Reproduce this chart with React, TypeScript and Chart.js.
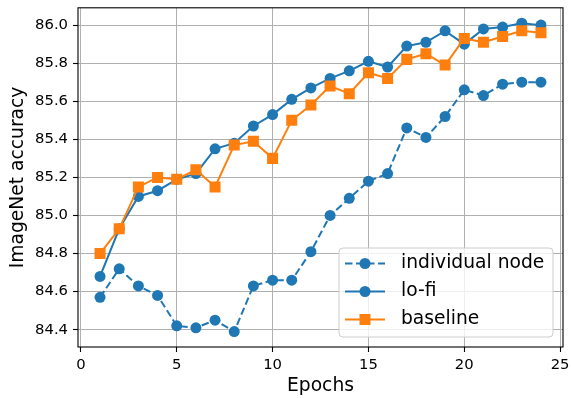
import React, { useEffect, useRef } from "react";
import { Chart, registerables } from "chart.js";
Chart.register(...registerables);

const epochs = [1, 2, 3, 4, 5, 6, 7, 8, 9, 10, 11, 12, 13, 14, 15, 16, 17, 18, 19, 20, 21, 22, 23, 24];
const individualNode = [84.57, 84.72, 84.63, 84.58, 84.42, 84.41, 84.45, 84.39, 84.63, 84.66, 84.66, 84.81, 85.0, 85.09, 85.18, 85.22, 85.46, 85.41, 85.52, 85.66, 85.63, 85.69, 85.7, 85.7];
const loFi = [84.68, 84.93, 85.1, 85.13, 85.19, 85.22, 85.35, 85.38, 85.47, 85.53, 85.61, 85.67, 85.72, 85.76, 85.81, 85.78, 85.89, 85.91, 85.97, 85.9, 85.98, 85.99, 86.01, 86.0];
const baseline = [84.8, 84.93, 85.15, 85.2, 85.19, 85.24, 85.15, 85.37, 85.39, 85.3, 85.5, 85.58, 85.68, 85.64, 85.75, 85.72, 85.82, 85.85, 85.79, 85.93, 85.91, 85.94, 85.97, 85.96];
const xTicks = [0, 5, 10, 15, 20, 25];
const yTicks = [84.4, 84.6, 84.8, 85.0, 85.2, 85.4, 85.6, 85.8, 86.0];
const seriesNames = ["individual node", "lo-fi", "baseline"];
const xTitle = "Epochs";
const yTitle = "ImageNet accuracy";

const BLUE = "#1f77b4";
const ORANGE = "#ff7f0e";
const FONT = "'DejaVu Sans', sans-serif";
const DASH = [7.5, 3.5];

export default function App() {
  const ref = useRef<HTMLCanvasElement>(null);
  useEffect(() => {
    document.body.style.margin = "0";
    const toXY = (ys: number[]) => epochs.map((x, i) => ({ x, y: ys[i] }));

    const framePlugin = {
      id: "frame",
      afterDatasetsDraw(chart: any) {
        const { ctx, chartArea: a } = chart;
        ctx.save();
        ctx.strokeStyle = "#000";
        ctx.lineWidth = 1.1;
        ctx.strokeRect(a.left, a.top, a.right - a.left, a.bottom - a.top);
        ctx.restore();
      },
      afterDraw(chart: any) {
        const { ctx, chartArea: a } = chart;
        const w = 214, h = 89;
        const bx = a.right - 10 - w;
        const by = a.bottom - 10 - h;
        ctx.save();
        ctx.beginPath();
        ctx.roundRect(bx, by, w, h, 4);
        ctx.fillStyle = "rgba(255,255,255,0.8)";
        ctx.fill();
        ctx.strokeStyle = "#cccccc";
        ctx.lineWidth = 1;
        ctx.stroke();
        const styles = [
          { color: BLUE, dash: DASH, marker: "circle" },
          { color: BLUE, dash: [], marker: "circle" },
          { color: ORANGE, dash: [], marker: "rect" },
        ];
        styles.forEach((s, i) => {
          const cy = by + 15.5 + i * 28;
          const x0 = bx + 6, x1 = bx + 46, xm = bx + 26;
          ctx.strokeStyle = s.color;
          ctx.lineWidth = 2;
          ctx.setLineDash(s.dash);
          ctx.beginPath();
          ctx.moveTo(x0, cy);
          ctx.lineTo(x1, cy);
          ctx.stroke();
          ctx.setLineDash([]);
          ctx.fillStyle = s.color;
          ctx.beginPath();
          if (s.marker === "circle") ctx.arc(xm, cy, 5.5, 0, Math.PI * 2);
          else ctx.rect(xm - 5.5, cy - 5.5, 11, 11);
          ctx.fill();
          ctx.fillStyle = "#000";
          ctx.font = `18.7px ${FONT}`;
          ctx.textBaseline = "middle";
          ctx.textAlign = "left";
          ctx.fillText(seriesNames[i], bx + 62, cy);
        });
        ctx.restore();
      },
    };

    const chart = new Chart(ref.current!, {
      type: "line",
      data: {
        datasets: [
          {
            label: seriesNames[0],
            data: toXY(individualNode),
            borderColor: BLUE,
            backgroundColor: BLUE,
            borderWidth: 2,
            borderDash: DASH,
            pointStyle: "circle",
            pointRadius: 5.5,
            pointBorderWidth: 0,
            order: 3,
          },
          {
            label: seriesNames[1],
            data: toXY(loFi),
            borderColor: BLUE,
            backgroundColor: BLUE,
            borderWidth: 2,
            pointStyle: "circle",
            pointRadius: 5.5,
            pointBorderWidth: 0,
            order: 2,
          },
          {
            label: seriesNames[2],
            data: toXY(baseline),
            borderColor: ORANGE,
            backgroundColor: ORANGE,
            borderWidth: 2,
            pointStyle: "rect",
            pointRadius: 7.8,
            pointBorderWidth: 0,
            order: 1,
          },
        ],
      },
      options: {
        responsive: false,
        animation: false,
        layout: { padding: { top: 7, right: 8, left: 0, bottom: 0 } },
        plugins: { legend: { display: false }, tooltip: { enabled: false } },
        scales: {
          x: {
            type: "linear",
            min: -0.15,
            max: 25.15,
            afterBuildTicks: (s: any) => {
              s.ticks = xTicks.map((v) => ({ value: v }));
            },
            afterFit: (s: any) => {
              s.height = 51;
              s.paddingLeft = 0;
              s.paddingRight = 0;
            },
            ticks: {
              color: "#000",
              font: { family: FONT, size: 14.8 },
              padding: 4,
              maxRotation: 0,
              callback: (v: any) => String(v),
            },
            grid: { color: "#b0b0b0", lineWidth: 1, tickLength: 5, tickColor: "#000", tickWidth: 1.1 },
            border: { display: false },
            title: {
              display: true,
              text: xTitle,
              color: "#000",
              font: { family: FONT, size: 18.7 },
              padding: { top: 0, bottom: 1 },
            },
          },
          y: {
            type: "linear",
            min: 84.309,
            max: 86.091,
            afterBuildTicks: (s: any) => {
              s.ticks = yTicks.map((v) => ({ value: v }));
            },
            afterFit: (s: any) => {
              s.width = 78;
              s.paddingTop = 0;
              s.paddingBottom = 0;
            },
            ticks: {
              color: "#000",
              font: { family: FONT, size: 14.8 },
              padding: 5,
              callback: (v: any) => Number(v).toFixed(1),
            },
            grid: { color: "#b0b0b0", lineWidth: 1, tickLength: 5, tickColor: "#000", tickWidth: 1.1 },
            border: { display: false },
            title: {
              display: true,
              text: yTitle,
              color: "#000",
              font: { family: FONT, size: 18.7 },
              padding: { top: 7, bottom: 0 },
            },
          },
        },
      },
      plugins: [framePlugin],
    });
    return () => chart.destroy();
  }, []);

  return (
    <div style={{ position: "fixed", left: 0, top: 0, width: 571, height: 398 }}>
      <canvas ref={ref} width={571} height={398} />
    </div>
  );
}
